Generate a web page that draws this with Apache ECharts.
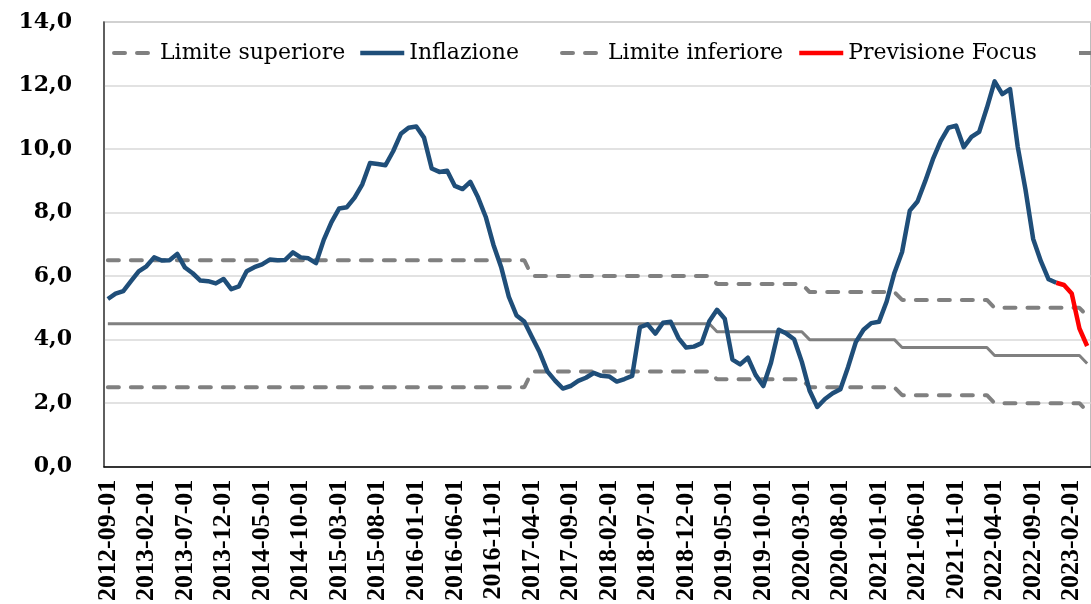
<!DOCTYPE html>
<html>
<head>
<meta charset="utf-8">
<script src="https://cdn.jsdelivr.net/npm/echarts@6/dist/echarts.min.js"></script>
<style>
html, body {margin: 0; padding: 0; background: #fff;}
#chart {width: 1091px; height: 604px;}
</style>
</head>
<body>
<div id="chart"></div>
<script>
var meseIniziale = [2012, 9];
var numeroMesi = 128;//2012-09 .. 2023-04 (parte visibile)

// inflazione 12 mesi, 2012-09 .. 2022-12
var inflazione = [
    5.28, 5.45, 5.53, 5.84,
    6.15, 6.31, 6.59, 6.49, 6.50, 6.70, 6.27, 6.09, 5.86, 5.84, 5.77, 5.91,
    5.59, 5.68, 6.15, 6.28, 6.37, 6.52, 6.50, 6.51, 6.75, 6.59, 6.56, 6.41,
    7.14, 7.70, 8.13, 8.17, 8.47, 8.89, 9.56, 9.53, 9.49, 9.93, 10.48, 10.67,
    10.71, 10.36, 9.39, 9.28, 9.32, 8.84, 8.74, 8.97, 8.48, 7.87, 6.99, 6.29,
    5.35, 4.76, 4.57, 4.08, 3.60, 3.00, 2.71, 2.46, 2.54, 2.70, 2.80, 2.95,
    2.86, 2.84, 2.68, 2.76, 2.86, 4.39, 4.48, 4.19, 4.53, 4.56, 4.05, 3.75,
    3.78, 3.89, 4.58, 4.94, 4.66, 3.37, 3.22, 3.43, 2.89, 2.54, 3.27, 4.31,
    4.19, 4.01, 3.30, 2.40, 1.88, 2.13, 2.31, 2.44, 3.14, 3.92, 4.31, 4.52,
    4.56, 5.20, 6.10, 6.76, 8.06, 8.35, 8.99, 9.68, 10.25, 10.67, 10.74, 10.06,
    10.38, 10.54, 11.30, 12.13, 11.73, 11.89, 10.07, 8.73, 7.17, 6.47, 5.90, 5.79
];

// previsione Focus dal 2022-12
var inizioPrevisione = '2022-12-01';
var previsione = [5.79, 5.72, 5.45, 4.35, 3.80];

// limiti: [mese di inizio, valore]
var limiteSuperiore = [['2012-09-01', 6.5], ['2017-04-01', 6.0], ['2019-04-01', 5.75], ['2020-04-01', 5.5], ['2021-04-01', 5.25], ['2022-04-01', 5.0], ['2023-04-01', 4.75]];
var obiettivo = [['2012-09-01', 4.5], ['2019-04-01', 4.25], ['2020-04-01', 4.0], ['2021-04-01', 3.75], ['2022-04-01', 3.5], ['2023-04-01', 3.25]];
var limiteInferiore = [['2012-09-01', 2.5], ['2017-04-01', 3.0], ['2019-04-01', 2.75], ['2020-04-01', 2.5], ['2021-04-01', 2.25], ['2022-04-01', 2.0], ['2023-04-01', 1.75]];

var mesi = [];
for (var i = 0; i < numeroMesi; i++) {
    var n = meseIniziale[1] - 1 + i;
    var anno = meseIniziale[0] + Math.floor(n / 12);
    var m = n % 12 + 1;
    mesi.push(anno + '-' + (m < 10 ? '0' + m : m) + '-01');
}

/*espande la tabella a gradini su tutti i mesi*/
function gradini(steps) {
    var out = [], k = 0;
    for (var i = 0; i < mesi.length; i++) {
        while (k + 1 < steps.length && mesi[i] >= steps[k + 1][0]) k++;
        out.push(steps[k][1]);
    }
    return out;
}

var serieInflazione = mesi.map(function (d, i) { return i < inflazione.length ? inflazione[i] : null; });
var start = mesi.indexOf(inizioPrevisione);
var seriePrevisione = mesi.map(function (d, i) {
    var j = i - start;
    return (j >= 0 && j < previsione.length) ? previsione[j] : null;
});

var grigio = '#808080';
var blu = '#1F4E79';
var rosso = '#FF0000';
var tratteggio = {color: grigio, width: 4, type: [11, 12], cap: 'round'};
var testoLegenda = {fontFamily: 'DejaVu Serif', fontSize: 22, color: '#000'};

function legenda(nome, left, width, pad, linea) {
    return {
        data: [nome],
        left: left,
        top: 42,
        padding: 0,
        itemWidth: width,
        itemHeight: 14,
        selectedMode: false,
        itemStyle: {opacity: 0},
        lineStyle: linea,
        textStyle: Object.assign({padding: [0, 0, 0, pad]}, testoLegenda)
    };
}

var chart = echarts.init(document.getElementById('chart'));
var option = {
    animation: false,
    backgroundColor: '#fff',
    grid: {left: 104, top: 22, right: -2.4, bottom: 127, show: true, borderColor: '#a6a6a6', borderWidth: 1.5},
    legend: [
        legenda('Limite superiore', 112, 36, 5, tratteggio),
        legenda('Inflazione', 358, 44, 0, {color: blu, width: 4.5}),
        legenda('Limite inferiore', 560, 36, 5, tratteggio),
        legenda('Previsione Focus', 797, 44, 0, {color: rosso, width: 4.5}),
        legenda('Obiettivo centrale', 1077, 44, 0, {color: grigio, width: 4})
    ],
    xAxis: {
        type: 'category',
        data: mesi,
        boundaryGap: true,
        axisLine: {lineStyle: {color: '#000', width: 1.5}},
        axisTick: {show: false},
        axisLabel: {
            interval: 4,
            rotate: 90,
            margin: 13,
            fontFamily: 'Liberation Sans Narrow',
            fontWeight: 'bold',
            fontSize: 26,
            color: '#000'
        }
    },
    yAxis: {
        type: 'value',
        min: 0,
        max: 14,
        interval: 2,
        axisLine: {show: true, lineStyle: {color: '#404040', width: 1.5}},
        axisTick: {show: false},
        splitLine: {lineStyle: {color: '#d9d9d9', width: 1.5}},
        axisLabel: {
            margin: 32,
            fontFamily: 'DejaVu Serif',
            fontWeight: 'bold',
            fontSize: 22,
            color: '#000',
            formatter: function (v) { return v.toFixed(1).replace('.', ','); }
        }
    },
    series: [
        {name: 'Limite superiore', type: 'line', symbol: 'none', data: gradini(limiteSuperiore), lineStyle: tratteggio, itemStyle: {color: grigio}},
        {name: 'Limite inferiore', type: 'line', symbol: 'none', data: gradini(limiteInferiore), lineStyle: tratteggio, itemStyle: {color: grigio}},
        {name: 'Obiettivo centrale', type: 'line', symbol: 'none', data: gradini(obiettivo), lineStyle: {color: grigio, width: 3}, itemStyle: {color: grigio}},
        {name: 'Inflazione', type: 'line', symbol: 'none', data: serieInflazione, lineStyle: {color: blu, width: 4.5, join: 'round'}, itemStyle: {color: blu}},
        {name: 'Previsione Focus', type: 'line', symbol: 'none', data: seriePrevisione, lineStyle: {color: rosso, width: 4.5, join: 'round'}, itemStyle: {color: rosso}}
    ]
};
chart.setOption(option);
</script>
</body>
</html>
